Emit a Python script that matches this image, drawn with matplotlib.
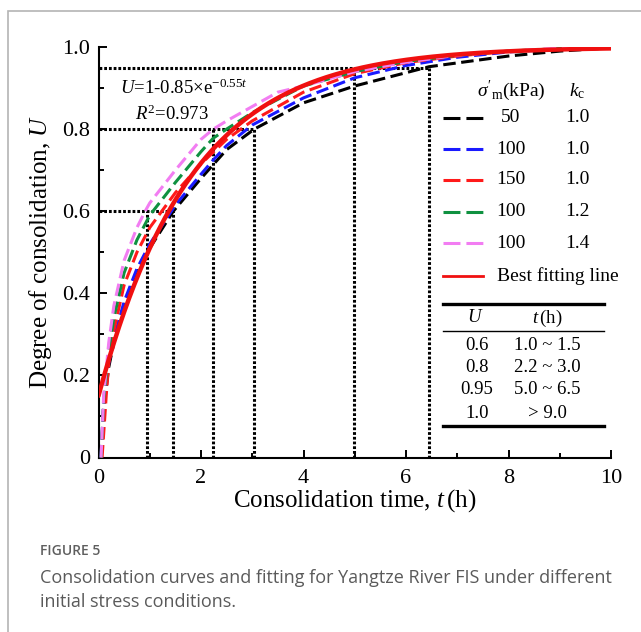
import numpy as np
import matplotlib.pyplot as plt
from matplotlib.patches import Rectangle
from matplotlib.lines import Line2D

plt.rcParams['font.family'] = 'Liberation Serif'
plt.rcParams['mathtext.fontset'] = 'custom'
plt.rcParams['mathtext.rm'] = 'Liberation Serif'
plt.rcParams['mathtext.it'] = 'Liberation Serif:italic'
plt.rcParams['mathtext.bf'] = 'Liberation Serif:bold'
plt.rcParams['lines.scale_dashes'] = False

# ---- measured consolidation curves (t in hours, U degree of consolidation) ----
t_50_10 = [0.05, 0.1, 0.2, 0.3, 0.5, 0.75, 1.0, 1.46, 2.0, 2.5, 3.04, 4.0, 5.0, 6.45, 8.0, 9.0, 10.0]
u_50_10 = [0.0, 0.12, 0.22, 0.28, 0.37, 0.45, 0.51, 0.60, 0.68, 0.75, 0.80, 0.864, 0.905, 0.952, 0.978, 0.99, 0.998]

t_100_10 = [0.05, 0.1, 0.2, 0.3, 0.5, 0.75, 1.0, 1.5, 2.0, 2.24, 2.5, 3.0, 4.0, 5.0, 6.0, 7.0, 8.0, 9.0, 10.0]
u_100_10 = [0.0, 0.13, 0.23, 0.29, 0.38, 0.46, 0.52, 0.615, 0.69, 0.725, 0.76, 0.81, 0.876, 0.925, 0.955, 0.975, 0.988, 0.995, 1.0]

t_150_10 = [0.07, 0.15, 0.2, 0.3, 0.5, 0.75, 1.0, 1.5, 2.0, 2.5, 3.0, 4.0, 5.0, 6.0, 7.0, 8.0, 9.0, 10.0]
u_150_10 = [0.0, 0.15, 0.23, 0.31, 0.42, 0.50, 0.56, 0.645, 0.715, 0.775, 0.82, 0.89, 0.935, 0.962, 0.978, 0.99, 0.996, 1.0]

t_100_12 = [0.05, 0.1, 0.2, 0.3, 0.5, 0.75, 1.0, 1.5, 2.0, 2.24, 2.5, 3.0, 4.0, 5.0, 6.0, 7.0, 8.0, 9.0, 10.0]
u_100_12 = [0.0, 0.14, 0.26, 0.34, 0.45, 0.53, 0.59, 0.67, 0.745, 0.778, 0.80, 0.84, 0.905, 0.94, 0.965, 0.98, 0.99, 0.996, 1.0]

t_100_14 = [0.05, 0.1, 0.2, 0.3, 0.5, 0.75, 0.91, 1.0, 1.5, 2.0, 2.24, 2.5, 3.0, 3.5, 4.0, 5.0, 6.0, 7.0, 8.0, 9.0, 10.0]
u_100_14 = [0.0, 0.15, 0.28, 0.37, 0.48, 0.56, 0.60, 0.62, 0.70, 0.775, 0.80, 0.82, 0.855, 0.89, 0.905, 0.94, 0.963, 0.98, 0.99, 0.997, 1.0]

# fitted model U = 1 - a * exp(-b t)
fit_a = 0.85
fit_b = 0.55

sigma_labels = ['50', '100', '150', '100', '100']
kc_labels = ['1.0', '1.0', '1.0', '1.2', '1.4']
series_colors = ['#000000', '#1a1aff', '#ff1a1a', '#0f9140', '#f27df2']

# reference levels and the time range at which each is reached
ref_u = [0.6, 0.8, 0.95]
ref_t = [(0.95, 1.46), (2.23, 3.03), (4.98, 6.45)]

table_u = ['0.6', '0.8', '0.95', '1.0']
table_t = ['1.0 ~ 1.5', '2.2 ~ 3.0', '5.0 ~ 6.5', '> 9.0']

W, H = 641, 632
fig = plt.figure(figsize=(W / 100, H / 100), dpi=100)


def fx(px):
    return px / W


def fy(py):
    return 1 - py / H


# card frame
fig.patches.append(Rectangle((fx(7.5), fy(700)), 2, fy(10.5) - fy(700), transform=fig.transFigure,
                             fill=False, edgecolor='#b4b4b4', linewidth=1.2))

ax = fig.add_axes([fx(98.5), fy(457.5), (611 - 98.5) / W, (457.5 - 47) / H])
ax.set_xlim(0, 10)
ax.set_ylim(0, 1.0)

# reference dotted guides
dot = dict(color='black', linestyle=(0, (2.0, 1.4)), linewidth=2.2, zorder=1)
for u, (ta, tb) in zip(ref_u, ref_t):
    ax.plot([0, tb], [u, u], **dot)
    ax.plot([ta, ta], [0, u], **dot)
    ax.plot([tb, tb], [0, u], **dot)

curves = [(t_50_10, u_50_10), (t_100_10, u_100_10), (t_150_10, u_150_10),
          (t_100_12, u_100_12), (t_100_14, u_100_14)]
for (tt, uu), c in zip(curves, series_colors):
    ax.plot(tt, uu, color=c, linewidth=2.2, dashes=(9, 4), zorder=3)

t_fit = np.linspace(0, 10, 300)
ax.plot(t_fit, 1 - fit_a * np.exp(-fit_b * t_fit), color='#f01010', linewidth=3.2,
        solid_capstyle='round', zorder=4)

for s in ['top', 'right']:
    ax.spines[s].set_visible(False)
for s in ['left', 'bottom']:
    ax.spines[s].set_linewidth(1.5)

ax.set_xticks([0, 2, 4, 6, 8, 10])
ax.set_xticks([1, 3, 5, 7, 9], minor=True)
ax.set_yticks([0, 0.2, 0.4, 0.6, 0.8, 1.0])
ax.set_yticklabels(['0', '0.2', '0.4', '0.6', '0.8', '1.0'])
ax.set_yticks([0.1, 0.3, 0.5, 0.7, 0.9], minor=True)
ax.tick_params(which='both', direction='in', width=1.4, labelsize=16)
ax.tick_params(which='major', length=6)
ax.tick_params(which='minor', length=3.5)
ax.tick_params(axis='x', pad=8)
ax.tick_params(axis='y', pad=6)

ax.set_xlabel('Consolidation time, $t\\,$(h)', fontsize=18, labelpad=0)
ax.set_ylabel('Degree of consolidation, $U$', fontsize=18, labelpad=6)

# fitted equation
fig.text(fx(120), fy(88), '$U$=1-0.85$\\times$e$^{-0.55t}$', fontsize=13.5, va='center', ha='left')
fig.text(fx(135), fy(114), '$R^2$=0.973', fontsize=13.5, va='center', ha='left')

# legend block
fig.text(fx(511), fy(91), "$\\sigma'_{\\rm m}$(kPa)", fontsize=14, ha='center', va='center')
fig.text(fx(577), fy(91), '$k_{\\rm c}$', fontsize=14, ha='center', va='center')
row_y = [118, 149, 180, 212, 243]
for y, c, s, k in zip(row_y, series_colors, sigma_labels, kc_labels):
    fig.add_artist(Line2D([fx(443), fx(483)], [fy(y), fy(y)], transform=fig.transFigure,
                          color=c, linewidth=2.2, dashes=(12.2, 4.3)))
    fig.text(fx(511), fy(y), s, fontsize=14, ha='center', va='center')
    fig.text(fx(577), fy(y), k, fontsize=14, ha='center', va='center')
fig.add_artist(Line2D([fx(443), fx(483)], [fy(276), fy(276)], transform=fig.transFigure,
                      color='#f01010', linewidth=2.0))
fig.text(fx(497), fy(276), 'Best fitting line', fontsize=14, ha='left', va='center')

# summary table
fig.add_artist(Line2D([fx(443), fx(604)], [fy(304), fy(304)], transform=fig.transFigure,
                      color='black', linewidth=2.4))
fig.add_artist(Line2D([fx(443), fx(604)], [fy(331), fy(331)], transform=fig.transFigure,
                      color='black', linewidth=1.0))
fig.add_artist(Line2D([fx(443), fx(604)], [fy(426), fy(426)], transform=fig.transFigure,
                      color='black', linewidth=2.4))
fig.text(fx(475), fy(318), '$U$', fontsize=13.5, ha='center', va='center')
fig.text(fx(547), fy(318), '$t\\,$(h)', fontsize=13.5, ha='center', va='center')
tab_y = [346, 368, 390, 413]
for y, u, t in zip(tab_y, table_u, table_t):
    fig.text(fx(477), fy(y), u, fontsize=13.5, ha='center', va='center')
    fig.text(fx(547), fy(y), t, fontsize=13.5, ha='center', va='center')

# caption
fig.text(fx(40), fy(551), 'FIGURE 5', fontsize=10, family='Open Sans', color='#5f5f5f',
         ha='left', va='center', fontweight='semibold')
fig.text(fx(40), fy(578), 'Consolidation curves and fitting for Yangtze River FIS under different',
         fontsize=13, family='Open Sans', color='#5a5a5a', ha='left', va='center')
fig.text(fx(40), fy(602), 'initial stress conditions.', fontsize=13, family='Open Sans',
         color='#5a5a5a', ha='left', va='center')

fig.savefig('out.png', dpi=100)
